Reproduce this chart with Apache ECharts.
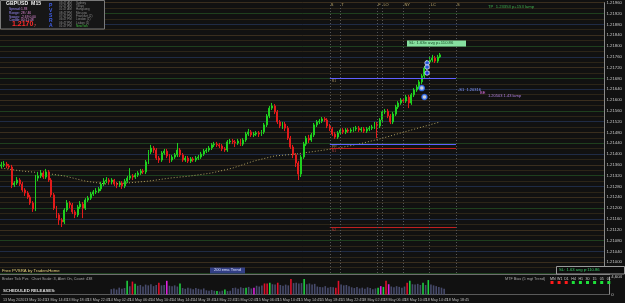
<!DOCTYPE html>
<html><head><meta charset="utf-8">
<script src="https://cdn.jsdelivr.net/npm/echarts@6/dist/echarts.min.js"></script>
<style>html,body{margin:0;padding:0;background:#111111;}#c{width:625px;height:303px;}</style>
</head><body><div id="c"></div>
<script>
// ---- data ----
// each candle: [open, high, low, close]
const candles = [
[1.21356,1.21371,1.21348,1.21360],[1.21360,1.21374,1.21352,1.21363],[1.21363,1.21371,1.21348,1.21356],[1.21356,1.21363,1.21345,1.21352],
[1.21352,1.21360,1.21274,1.21286],[1.21286,1.21300,1.21278,1.21293],[1.21293,1.21315,1.21286,1.21304],[1.21304,1.21311,1.21282,1.21289],
[1.21289,1.21297,1.21260,1.21267],[1.21267,1.21274,1.21245,1.21256],[1.21256,1.21263,1.21234,1.21241],[1.21241,1.21249,1.21212,1.21219],
[1.21219,1.21226,1.21186,1.21197],[1.21197,1.21323,1.21189,1.21311],[1.21311,1.21334,1.21300,1.21319],[1.21319,1.21341,1.21311,1.21330],
[1.21330,1.21337,1.21308,1.21315],[1.21315,1.21345,1.21308,1.21334],[1.21334,1.21341,1.21297,1.21304],[1.21304,1.21311,1.21241,1.21249],
[1.21249,1.21256,1.21193,1.21200],[1.21200,1.21208,1.21163,1.21175],[1.21175,1.21182,1.21138,1.21156],[1.21156,1.21163,1.21130,1.21149],
[1.21149,1.21200,1.21141,1.21193],[1.21193,1.21230,1.21186,1.21219],[1.21219,1.21226,1.21200,1.21212],[1.21212,1.21219,1.21178,1.21186],
[1.21186,1.21193,1.21163,1.21175],[1.21175,1.21212,1.21167,1.21204],[1.21204,1.21226,1.21197,1.21215],[1.21215,1.21223,1.21163,1.21200],
[1.21200,1.21237,1.21193,1.21230],[1.21230,1.21245,1.21223,1.21237],[1.21237,1.21260,1.21230,1.21252],[1.21252,1.21267,1.21245,1.21260],
[1.21260,1.21274,1.21252,1.21263],[1.21263,1.21278,1.21256,1.21271],[1.21271,1.21297,1.21263,1.21289],[1.21289,1.21311,1.21282,1.21300],
[1.21300,1.21315,1.21293,1.21304],[1.21304,1.21311,1.21289,1.21297],[1.21297,1.21311,1.21289,1.21304],[1.21304,1.21308,1.21282,1.21289],
[1.21289,1.21297,1.21274,1.21286],[1.21286,1.21300,1.21278,1.21293],[1.21293,1.21300,1.21271,1.21282],[1.21282,1.21308,1.21274,1.21300],
[1.21300,1.21319,1.21293,1.21311],[1.21311,1.21348,1.21304,1.21319],[1.21319,1.21326,1.21304,1.21315],[1.21315,1.21330,1.21308,1.21323],
[1.21323,1.21337,1.21315,1.21330],[1.21330,1.21345,1.21323,1.21337],[1.21337,1.21345,1.21326,1.21334],[1.21334,1.21378,1.21326,1.21371],
[1.21371,1.21415,1.21363,1.21408],[1.21408,1.21434,1.21400,1.21422],[1.21422,1.21430,1.21404,1.21415],[1.21415,1.21422,1.21378,1.21385],
[1.21385,1.21393,1.21367,1.21378],[1.21378,1.21411,1.21371,1.21404],[1.21404,1.21419,1.21397,1.21411],[1.21411,1.21419,1.21385,1.21393],
[1.21393,1.21400,1.21367,1.21378],[1.21378,1.21397,1.21371,1.21389],[1.21389,1.21404,1.21382,1.21397],[1.21397,1.21441,1.21389,1.21415],
[1.21415,1.21422,1.21389,1.21397],[1.21397,1.21404,1.21371,1.21378],[1.21378,1.21393,1.21371,1.21385],[1.21385,1.21393,1.21367,1.21374],
[1.21374,1.21389,1.21367,1.21382],[1.21382,1.21389,1.21371,1.21378],[1.21378,1.21393,1.21371,1.21385],[1.21385,1.21397,1.21378,1.21389],
[1.21389,1.21408,1.21382,1.21400],[1.21400,1.21419,1.21393,1.21411],[1.21411,1.21422,1.21404,1.21415],[1.21415,1.21430,1.21408,1.21422],
[1.21422,1.21441,1.21415,1.21434],[1.21434,1.21445,1.21426,1.21437],[1.21437,1.21445,1.21426,1.21434],[1.21434,1.21441,1.21422,1.21430],
[1.21430,1.21437,1.21411,1.21419],[1.21419,1.21426,1.21408,1.21415],[1.21415,1.21452,1.21408,1.21445],[1.21445,1.21456,1.21437,1.21448],
[1.21448,1.21456,1.21437,1.21445],[1.21445,1.21452,1.21426,1.21441],[1.21441,1.21456,1.21434,1.21448],[1.21448,1.21456,1.21430,1.21437],
[1.21437,1.21459,1.21430,1.21452],[1.21452,1.21482,1.21445,1.21474],[1.21474,1.21493,1.21467,1.21482],[1.21482,1.21489,1.21463,1.21471],
[1.21471,1.21482,1.21463,1.21474],[1.21474,1.21485,1.21467,1.21478],[1.21478,1.21485,1.21463,1.21474],[1.21474,1.21489,1.21467,1.21482],
[1.21482,1.21515,1.21474,1.21508],[1.21508,1.21548,1.21500,1.21541],[1.21541,1.21578,1.21533,1.21570],[1.21570,1.21589,1.21563,1.21578],
[1.21578,1.21585,1.21548,1.21556],[1.21556,1.21563,1.21511,1.21519],[1.21519,1.21526,1.21496,1.21504],[1.21504,1.21519,1.21493,1.21511],
[1.21511,1.21519,1.21485,1.21496],[1.21496,1.21504,1.21452,1.21459],[1.21459,1.21467,1.21419,1.21426],[1.21426,1.21434,1.21385,1.21397],
[1.21397,1.21404,1.21352,1.21367],[1.21367,1.21374,1.21304,1.21326],[1.21326,1.21397,1.21315,1.21389],[1.21389,1.21445,1.21382,1.21437],
[1.21437,1.21467,1.21430,1.21459],[1.21459,1.21471,1.21441,1.21452],[1.21452,1.21478,1.21445,1.21471],[1.21471,1.21515,1.21463,1.21508],
[1.21508,1.21526,1.21500,1.21519],[1.21519,1.21530,1.21511,1.21522],[1.21522,1.21537,1.21515,1.21530],[1.21530,1.21537,1.21519,1.21526],
[1.21526,1.21533,1.21496,1.21504],[1.21504,1.21511,1.21485,1.21493],[1.21493,1.21500,1.21467,1.21474],[1.21474,1.21482,1.21456,1.21463],
[1.21463,1.21485,1.21456,1.21478],[1.21478,1.21496,1.21471,1.21489],[1.21489,1.21496,1.21474,1.21482],[1.21482,1.21496,1.21474,1.21489],
[1.21489,1.21496,1.21478,1.21485],[1.21485,1.21496,1.21478,1.21489],[1.21489,1.21500,1.21482,1.21493],[1.21493,1.21504,1.21485,1.21496],
[1.21496,1.21504,1.21482,1.21489],[1.21489,1.21500,1.21482,1.21493],[1.21493,1.21500,1.21478,1.21485],[1.21485,1.21500,1.21478,1.21493],
[1.21493,1.21504,1.21485,1.21496],[1.21496,1.21508,1.21489,1.21500],[1.21500,1.21519,1.21493,1.21511],[1.21511,1.21519,1.21459,1.21504],
[1.21504,1.21533,1.21496,1.21526],[1.21526,1.21563,1.21519,1.21556],[1.21556,1.21567,1.21548,1.21559],[1.21559,1.21567,1.21533,1.21541],
[1.21541,1.21548,1.21511,1.21519],[1.21519,1.21556,1.21511,1.21548],[1.21548,1.21582,1.21541,1.21574],[1.21574,1.21596,1.21567,1.21589],
[1.21589,1.21607,1.21582,1.21600],[1.21600,1.21607,1.21589,1.21596],[1.21596,1.21619,1.21589,1.21611],[1.21611,1.21619,1.21570,1.21589],
[1.21589,1.21626,1.21582,1.21619],[1.21619,1.21644,1.21611,1.21637],[1.21637,1.21656,1.21630,1.21648],[1.21648,1.21674,1.21641,1.21667],
[1.21667,1.21696,1.21659,1.21689],[1.21689,1.21726,1.21681,1.21718],[1.21718,1.21748,1.21711,1.21741],[1.21741,1.21759,1.21733,1.21748],
[1.21748,1.21767,1.21741,1.21755],[1.21755,1.21763,1.21737,1.21744],[1.21744,1.21767,1.21737,1.21759],[1.21759,1.21774,1.21755,1.21767]
];
const futureSlots = 62;           // empty bars to the right of the last candle
const currentPrice = 1.21767;
// 200 EMA read at every 8th bar: [barIndex, value]
const emaPoints = [[0,1.21348],[8,1.21337],[16,1.21330],[24,1.21319],[32,1.21300],[40,1.21289],[48,1.21293],[56,1.21300],
 [64,1.21311],[72,1.21319],[80,1.21330],[88,1.21348],[96,1.21374],[104,1.21393],[112,1.21400],[120,1.21411],[128,1.21422],
 [136,1.21437],[144,1.21456],[152,1.21478],[160,1.21500],[167,1.21519]];
// volume pane
const volumeStart = 41;
const volumes = [1400,1600,1300,1800,1500,1700,3600,2200,3400,2800,
 2300,2500,2100,2600,2400,2700,2200,2500,3100,2400,
 2500,3600,2300,2200,2400,2100,2900,1700,1500,1800,
 1600,1400,1700,1500,1300,1600,1100,1000,1200,1000,
 900,800,1000,1300,900,1000,1700,1800,1500,1900,
 1700,1800,2000,1600,1800,2300,2100,2400,2900,2900,
 3100,2700,2600,3100,2500,2300,2600,2400,4060,3000,
 3100,2900,3000,4100,2700,2900,2600,2800,2100,2000,
 1900,2200,1800,2000,1900,1800,3600,2600,2400,2500,
 2200,1900,1700,2000,1600,1800,1500,1900,1700,1400,
 1600,1800,2200,2000,3600,2700,2100,1900,2200,2000,
 1800,2100,3100,3600,2700,2600,2800,2500,3100,2500,
 3800,2600,2400,2200,2000,1800,1500];
const volumeMax = 4604;
const climaxUp = [47,50,67,81,84,92,101,114,142,144,154,159,161];
const climaxDown = [49,59,99,100,104,109,126,127,145,153];
const risingVol = [62,95,143,146];
// price axis ticks
const priceMin = 1.2096, priceMax = 1.2196, priceStep = 0.0004;
// time axis labels, one every 8 bars
const timeLabels = ['13 May 2020','13 May 10:45','13 May 14:45','13 May 18:45','13 May 22:45','14 May 02:45',
 '14 May 06:45','14 May 10:45','14 May 14:45','14 May 18:45','14 May 22:45','15 May 02:45','15 May 06:45',
 '15 May 10:45','15 May 14:45','15 May 18:45','15 May 22:45','18 May 02:45','18 May 06:45','18 May 10:45',
 '18 May 14:45','18 May 18:45'];
const barsPerLabel = 8;
// session markers (bar index + name)
const sessionBars = [125,129,143,145,153,163,173];
const sessionNames = ['S','T','F','LO','NY','LC','S'];
// day levels drawn from first to last session marker
const levelValues = [1.21681,1.21437,1.21422,1.21130];
const levelNames = ['R1','PP','S1','S2'];
// PVSRA arrows
const blueDotBars = [162,162,162], blueDotValues = [1.21737,1.21722,1.21700];
const ringDotBars = [160,161], ringDotValues = [1.21644,1.21611];
// MTF bias panel
const tfNames = ['MN','W1','D1','H4','H1','30','15','05','01'];
const tfBias = [-1,-1,-1,1,1,1,1,1,1];

// ---- chart ----
const nCat = candles.length + futureSlots;
const cats = Array.from({length:nCat}, (_, i) => String(i));
const FONT = '"Liberation Sans", Arial, sans-serif';
const GREEN = '#1fd01f', RED = '#e21b1b';

const volData = volumes.map((v, k) => {
  const i = k + volumeStart;
  let col = '#474b6c';
  if (climaxUp.includes(i)) col = '#1ed040';
  else if (climaxDown.includes(i)) col = '#e0102a';
  else if (risingVol.includes(i)) col = '#e020e0';
  return {value:[String(i), v], itemStyle:{color:col}};
});

const levelColors = ['#5f5fff','#5f5fff','#c02020','#c02020'];
const markData = [];
markData.push({yAxis: currentPrice, lineStyle:{color:'#bdbdbd', type:[1,2], width:1},
  label:{show:true, position:'end', distance:1, formatter: currentPrice.toFixed(5),
    backgroundColor:'#e6e6e6', color:'#000', fontSize:4.3, fontFamily:FONT, padding:[1,1,1,1]}});
levelValues.forEach((v, k) => {
  markData.push([{coord:[String(sessionBars[0]), v], lineStyle:{color:levelColors[k], type:'solid', width:1}},
                 {coord:[String(sessionBars[sessionBars.length-1]), v]}]);
});
sessionBars.forEach(b => markData.push({xAxis:String(b), lineStyle:{color:'#565656', type:[1,2], width:1}}));

const chart = echarts.init(document.getElementById('c'), null, {renderer:'canvas'});
const option = {
  animation:false,
  backgroundColor:'#111111',
  grid:[{left:0, right:15, top:2.7, height:270.3},{left:0, right:15, top:277, height:17.5}],
  xAxis:[
    {type:'category', gridIndex:0, data:cats, boundaryGap:true, axisLine:{show:false}, axisTick:{show:false}, axisLabel:{show:false}, splitLine:{show:false}},
    {type:'category', gridIndex:1, data:cats, boundaryGap:true, axisLine:{show:true, lineStyle:{color:'#5a5a5a'}}, axisTick:{show:false},
     axisLabel:{show:true, interval:(i) => i % barsPerLabel === 0, align:'left', margin:3, fontSize:3.7, color:'#bdbdbd', fontFamily:FONT,
       hideOverlap:false, showMinLabel:true,
       formatter:(v) => timeLabels[Number(v) / barsPerLabel] || ''}, splitLine:{show:false}}
  ],
  yAxis:[
    {type:'value', gridIndex:0, position:'right', min:priceMin, max:priceMax, interval:priceStep,
     axisLine:{show:true, lineStyle:{color:'#8a8a8a'}}, axisTick:{show:false},
     axisLabel:{fontSize:4.3, color:'#c8c8c8', margin:2, fontFamily:FONT, formatter:v => v.toFixed(5)},
     splitLine:{show:true, lineStyle:{color:['#1e3f1e','#3a2e1e','#1f2b45'], width:1}},
     minorTick:{show:false, splitNumber:2}, minorSplitLine:{show:true, lineStyle:{color:'#2c2518', width:1}}},
    {type:'value', gridIndex:1, position:'right', min:0, max:volumeMax, interval:volumeMax,
     axisLine:{show:true, lineStyle:{color:'#8a8a8a'}}, axisTick:{show:false},
     axisLabel:{fontSize:4.3, color:'#c8c8c8', margin:2, fontFamily:FONT}, splitLine:{show:false}}
  ],
  series:[
    {type:'line', xAxisIndex:0, yAxisIndex:0, data:emaPoints.map(p => [String(p[0]), p[1]]), symbol:'none', silent:true,
     lineStyle:{color:'#b0a262', type:[1,2], width:1}, z:2},
    {type:'candlestick', xAxisIndex:0, yAxisIndex:0, barWidth:'55%', z:3,
     data:candles.map(([o,h,l,c]) => [o,c,l,h]),
     itemStyle:{color:GREEN, color0:RED, borderColor:GREEN, borderColor0:RED, borderWidth:1},
     markLine:{silent:true, symbol:['none','none'], label:{show:false}, data:markData, animation:false}},
    {type:'scatter', xAxisIndex:0, yAxisIndex:0, z:5, symbolSize:4.5,
     data:blueDotBars.map((b,k) => [String(b), blueDotValues[k]]),
     itemStyle:{color:'#1f3fff', borderColor:'#e8ecff', borderWidth:1}},
    {type:'scatter', xAxisIndex:0, yAxisIndex:0, z:5, symbolSize:5,
     data:ringDotBars.map((b,k) => [String(b), ringDotValues[k]]),
     itemStyle:{color:'#ffffff', borderColor:'#2a6cff', borderWidth:1.5}},
    {type:'bar', xAxisIndex:1, yAxisIndex:1, barWidth:'60%', data:volData, silent:true}
  ]
};
chart.setOption(option);

// ---- text overlays ----
const T = (x, y, text, fill, font, extra) => ({type:'text', x:x, y:y, silent:true, z:100,
  style:Object.assign({text:text, fill:fill, font:font + ' ' + FONT}, extra || {})});
const g = [];
// info panel
g.push({type:'rect', z:99, silent:true, shape:{x:0.5, y:0.5, width:104, height:28.5}, style:{fill:'#161616', stroke:'#7a7a7a', lineWidth:1}});
g.push(T(6, 1, 'GBPUSD  M15', '#f0f0f0', 'bold 5.2px'));
const infoLabels = ['Spread:','Range:','Swaps:','Candle:'];
const infoValues = ['1.93','28 / 46','-2.69 0.00','00:11:48'];
infoLabels.forEach((t,k) => { g.push(T(9, 7.5 + 3.8*k, t, '#9d8cff', '3.3px')); g.push(T(21, 7.5 + 3.8*k, infoValues[k], '#e08ad8', '3.3px')); });
g.push(T(12, 21, '1.2170', '#ff2b2b', 'bold 7px'));
g.push(T(34, 24, '7', '#ff6060', '3.5px'));
'PVSRA'.split('').forEach((ch,k) => g.push(T(49, 3 + 5*k, ch, '#3f5fe8', 'bold 5px')));
const cityNames = ['Sydney','Tokyo','Hongkong','Moscow','Frankfurt (2)','London (1)','Lisbon (1)','NewYork'];
const cityTimes = ['03:47 AM','02:47 AM','01:47 AM','08:47 PM','07:47 PM','06:47 PM','06:47 PM','01:47 PM'];
cityNames.forEach((n,k) => {
  g.push(T(59, 1.5 + 3.3*k, cityTimes[k], '#8a8a8a', '3px'));
  g.push(T(76, 1.5 + 3.3*k, n, k === 7 ? '#3fbf3f' : '#8a8a8a', '3px'));
});
// top right / trade labels
g.push(T(488, 5, 'TP  1.23353 p+153 lamp', '#3fae4f', '4.2px'));
g.push({type:'rect', z:99, silent:true, shape:{x:407, y:40.5, width:59, height:6}, style:{fill:'#86e0a0'}});
g.push(T(409, 41.3, 'SL: 1.63e avg p+110.86', '#154a25', '4.2px'));
g.push(T(458, 87.5, '-S1  1.20316', '#8a9cff', '4px'));
g.push(T(480, 91, 'BE', '#e070e0', '4px'));
g.push(T(488, 94, '1.20503 1.43 lamp', '#b080e0', '4px'));
// bottom texts
g.push(T(2, 268.5, 'Free PVSRA by TradersHome', '#e6d27a', '4.3px'));
g.push({type:'rect', z:99, silent:true, shape:{x:210, y:267.5, width:35, height:6}, style:{fill:'#323f86'}});
g.push(T(227.5, 268.3, '200 ema Trend', '#dde0ff', '4px', {align:'center'}));
g.push({type:'line', z:99, silent:true, shape:{x1:0, y1:274.5, x2:610, y2:274.5}, style:{stroke:'#6e6e6e', lineWidth:1}});
g.push({type:'rect', z:99, silent:true, shape:{x:556.5, y:266.5, width:68, height:7.5}, style:{fill:'#0d0d0d', stroke:'#9a9a9a', lineWidth:1}});
g.push(T(559, 268, 'SL: 1.63 avg p:110.86', '#3ad06a', '4.2px'));
g.push(T(2, 276.5, 'Broker Tick Pvs   Chart Scale: 3, Alert On, Count: 438', '#a8a8a8', '3.8px'));
g.push(T(3, 288.5, 'SCHEDULED RELEASES:', '#dcdcdc', 'bold 4.3px'));
g.push(T(505, 276.5, 'MTF Bias (5 mgt Trend)', '#a8a8a8', '3.8px'));
tfNames.forEach((n,k) => {
  const x = 550 + 7.1*k;
  g.push(T(x, 276.5, n, '#cfcfcf', '3.6px'));
  g.push({type:'rect', z:99, silent:true, shape:{x:x + 0.5, y:281, width:3, height:3}, style:{fill: tfBias[k] < 0 ? '#ff1a1a' : '#1ee03a'}});
});
// session names at the top of their lines, positioned through the axis
sessionBars.forEach((b,k) => {
  const px = chart.convertToPixel({xAxisIndex:0}, String(b));
  g.push(T(px + 1, 2.5, sessionNames[k], '#bfa86a', '4px'));
});
// level names at the left end of the level lines
levelValues.forEach((v,k) => {
  const px = chart.convertToPixel({xAxisIndex:0}, String(sessionBars[0]));
  const py = chart.convertToPixel({yAxisIndex:0}, v);
  g.push(T(px + 2, py + 1, levelNames[k], k < 2 ? '#a08a5a' : '#b04040', '3.5px'));
});
chart.setOption({graphic:g});
</script>
</body></html>
